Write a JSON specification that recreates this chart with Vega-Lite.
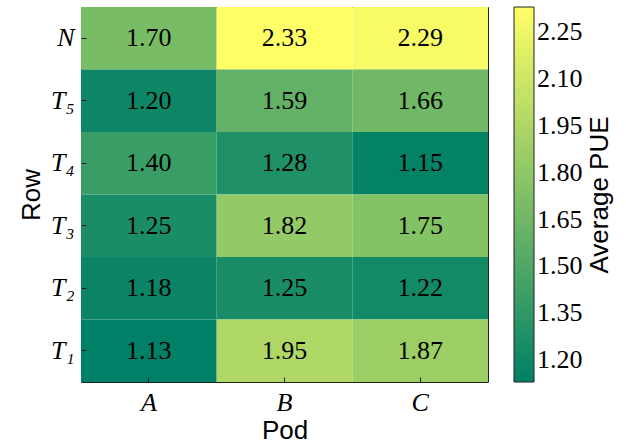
{
  "$schema": "https://vega.github.io/schema/vega-lite/v6.json",
  "width": 407,
  "height": 375,
  "autosize": "none",
  "padding": {"left": 81, "top": 7, "right": 138, "bottom": 65},
  "background": "white",
  "data": {
    "values": [
      {"pod": "A", "row": "N", "pue": 1.70},
      {"pod": "A", "row": "T₅", "pue": 1.20},
      {"pod": "A", "row": "T₄", "pue": 1.40},
      {"pod": "A", "row": "T₃", "pue": 1.25},
      {"pod": "A", "row": "T₂", "pue": 1.18},
      {"pod": "A", "row": "T₁", "pue": 1.13},
      {"pod": "B", "row": "N", "pue": 2.33},
      {"pod": "B", "row": "T₅", "pue": 1.59},
      {"pod": "B", "row": "T₄", "pue": 1.28},
      {"pod": "B", "row": "T₃", "pue": 1.82},
      {"pod": "B", "row": "T₂", "pue": 1.25},
      {"pod": "B", "row": "T₁", "pue": 1.95},
      {"pod": "C", "row": "N", "pue": 2.29},
      {"pod": "C", "row": "T₅", "pue": 1.66},
      {"pod": "C", "row": "T₄", "pue": 1.15},
      {"pod": "C", "row": "T₃", "pue": 1.75},
      {"pod": "C", "row": "T₂", "pue": 1.22},
      {"pod": "C", "row": "T₁", "pue": 1.87}
    ]
  },
  "config": {
    "view": {"stroke": "#222", "strokeWidth": 1},
    "axis": {
      "domain": false,
      "grid": false,
      "ticks": true,
      "tickColor": "#222",
      "tickSize": -5,
      "labelFont": "Liberation Serif",
      "labelFontSize": 26,
      "labelFontStyle": "italic",
      "labelColor": "black",
      "labelAngle": 0,
      "titleFont": "Liberation Sans",
      "titleFontSize": 26,
      "titleFontWeight": "normal",
      "titleColor": "black"
    }
  },
  "encoding": {
    "x": {"field": "pod", "type": "nominal", "sort": ["A", "B", "C"], "scale": {"paddingInner": 0, "paddingOuter": 0}},
    "y": {"field": "row", "type": "nominal", "sort": ["N", "T₅", "T₄", "T₃", "T₂", "T₁"], "scale": {"paddingInner": 0, "paddingOuter": 0}}
  },
  "layer": [
    {
      "mark": {"type": "rect"},
      "encoding": {
        "x": {"field": "pod", "type": "nominal", "sort": ["A", "B", "C"], "axis": {"orient": "bottom", "title": "Pod", "labelPadding": 12, "titlePadding": 2}},
        "y": {"field": "row", "type": "nominal", "sort": ["N", "T₅", "T₄", "T₃", "T₂", "T₁"], "axis": {"orient": "left", "title": "Row", "labelPadding": 12, "titlePadding": 6}},
        "color": {
          "field": "pue",
          "type": "quantitative",
          "scale": {"domain": [1.13, 2.33], "range": ["#008066", "#ffff66"], "interpolate": "rgb"},
          "legend": {
            "title": "Average PUE",
            "orient": "right",
            "offset": 25,
            "gradientLength": 375,
            "gradientThickness": 20,
            "gradientStrokeColor": "#222",
            "gradientStrokeWidth": 1,
            "values": [1.2, 1.35, 1.5, 1.65, 1.8, 1.95, 2.1, 2.25],
            "format": ".2f",
            "labelFont": "Liberation Serif",
            "labelFontSize": 26,
            "labelColor": "black",
            "labelOffset": 3,
            "labelOverlap": false,
            "titleOrient": "right",
            "titleAnchor": "middle",
            "titleFont": "Liberation Sans",
            "titleFontSize": 26,
            "titleFontWeight": "normal",
            "titleColor": "black",
            "titlePadding": 4,
            "encode": {"title": {"update": {"angle": {"value": -90}, "baseline": {"value": "top"}}}}
          }
        }
      }
    },
    {
      "mark": {"type": "text", "font": "Liberation Serif", "fontSize": 26, "color": "black", "baseline": "middle"},
      "encoding": {
        "x": {"field": "pod", "type": "nominal", "sort": ["A", "B", "C"], "axis": {"orient": "top", "labels": false, "title": null}},
        "y": {"field": "row", "type": "nominal", "sort": ["N", "T₅", "T₄", "T₃", "T₂", "T₁"], "axis": {"orient": "right", "labels": false, "title": null}},
        "text": {"field": "pue", "type": "quantitative", "format": ".2f"}
      }
    }
  ],
  "resolve": {"axis": {"x": "independent", "y": "independent"}}
}
